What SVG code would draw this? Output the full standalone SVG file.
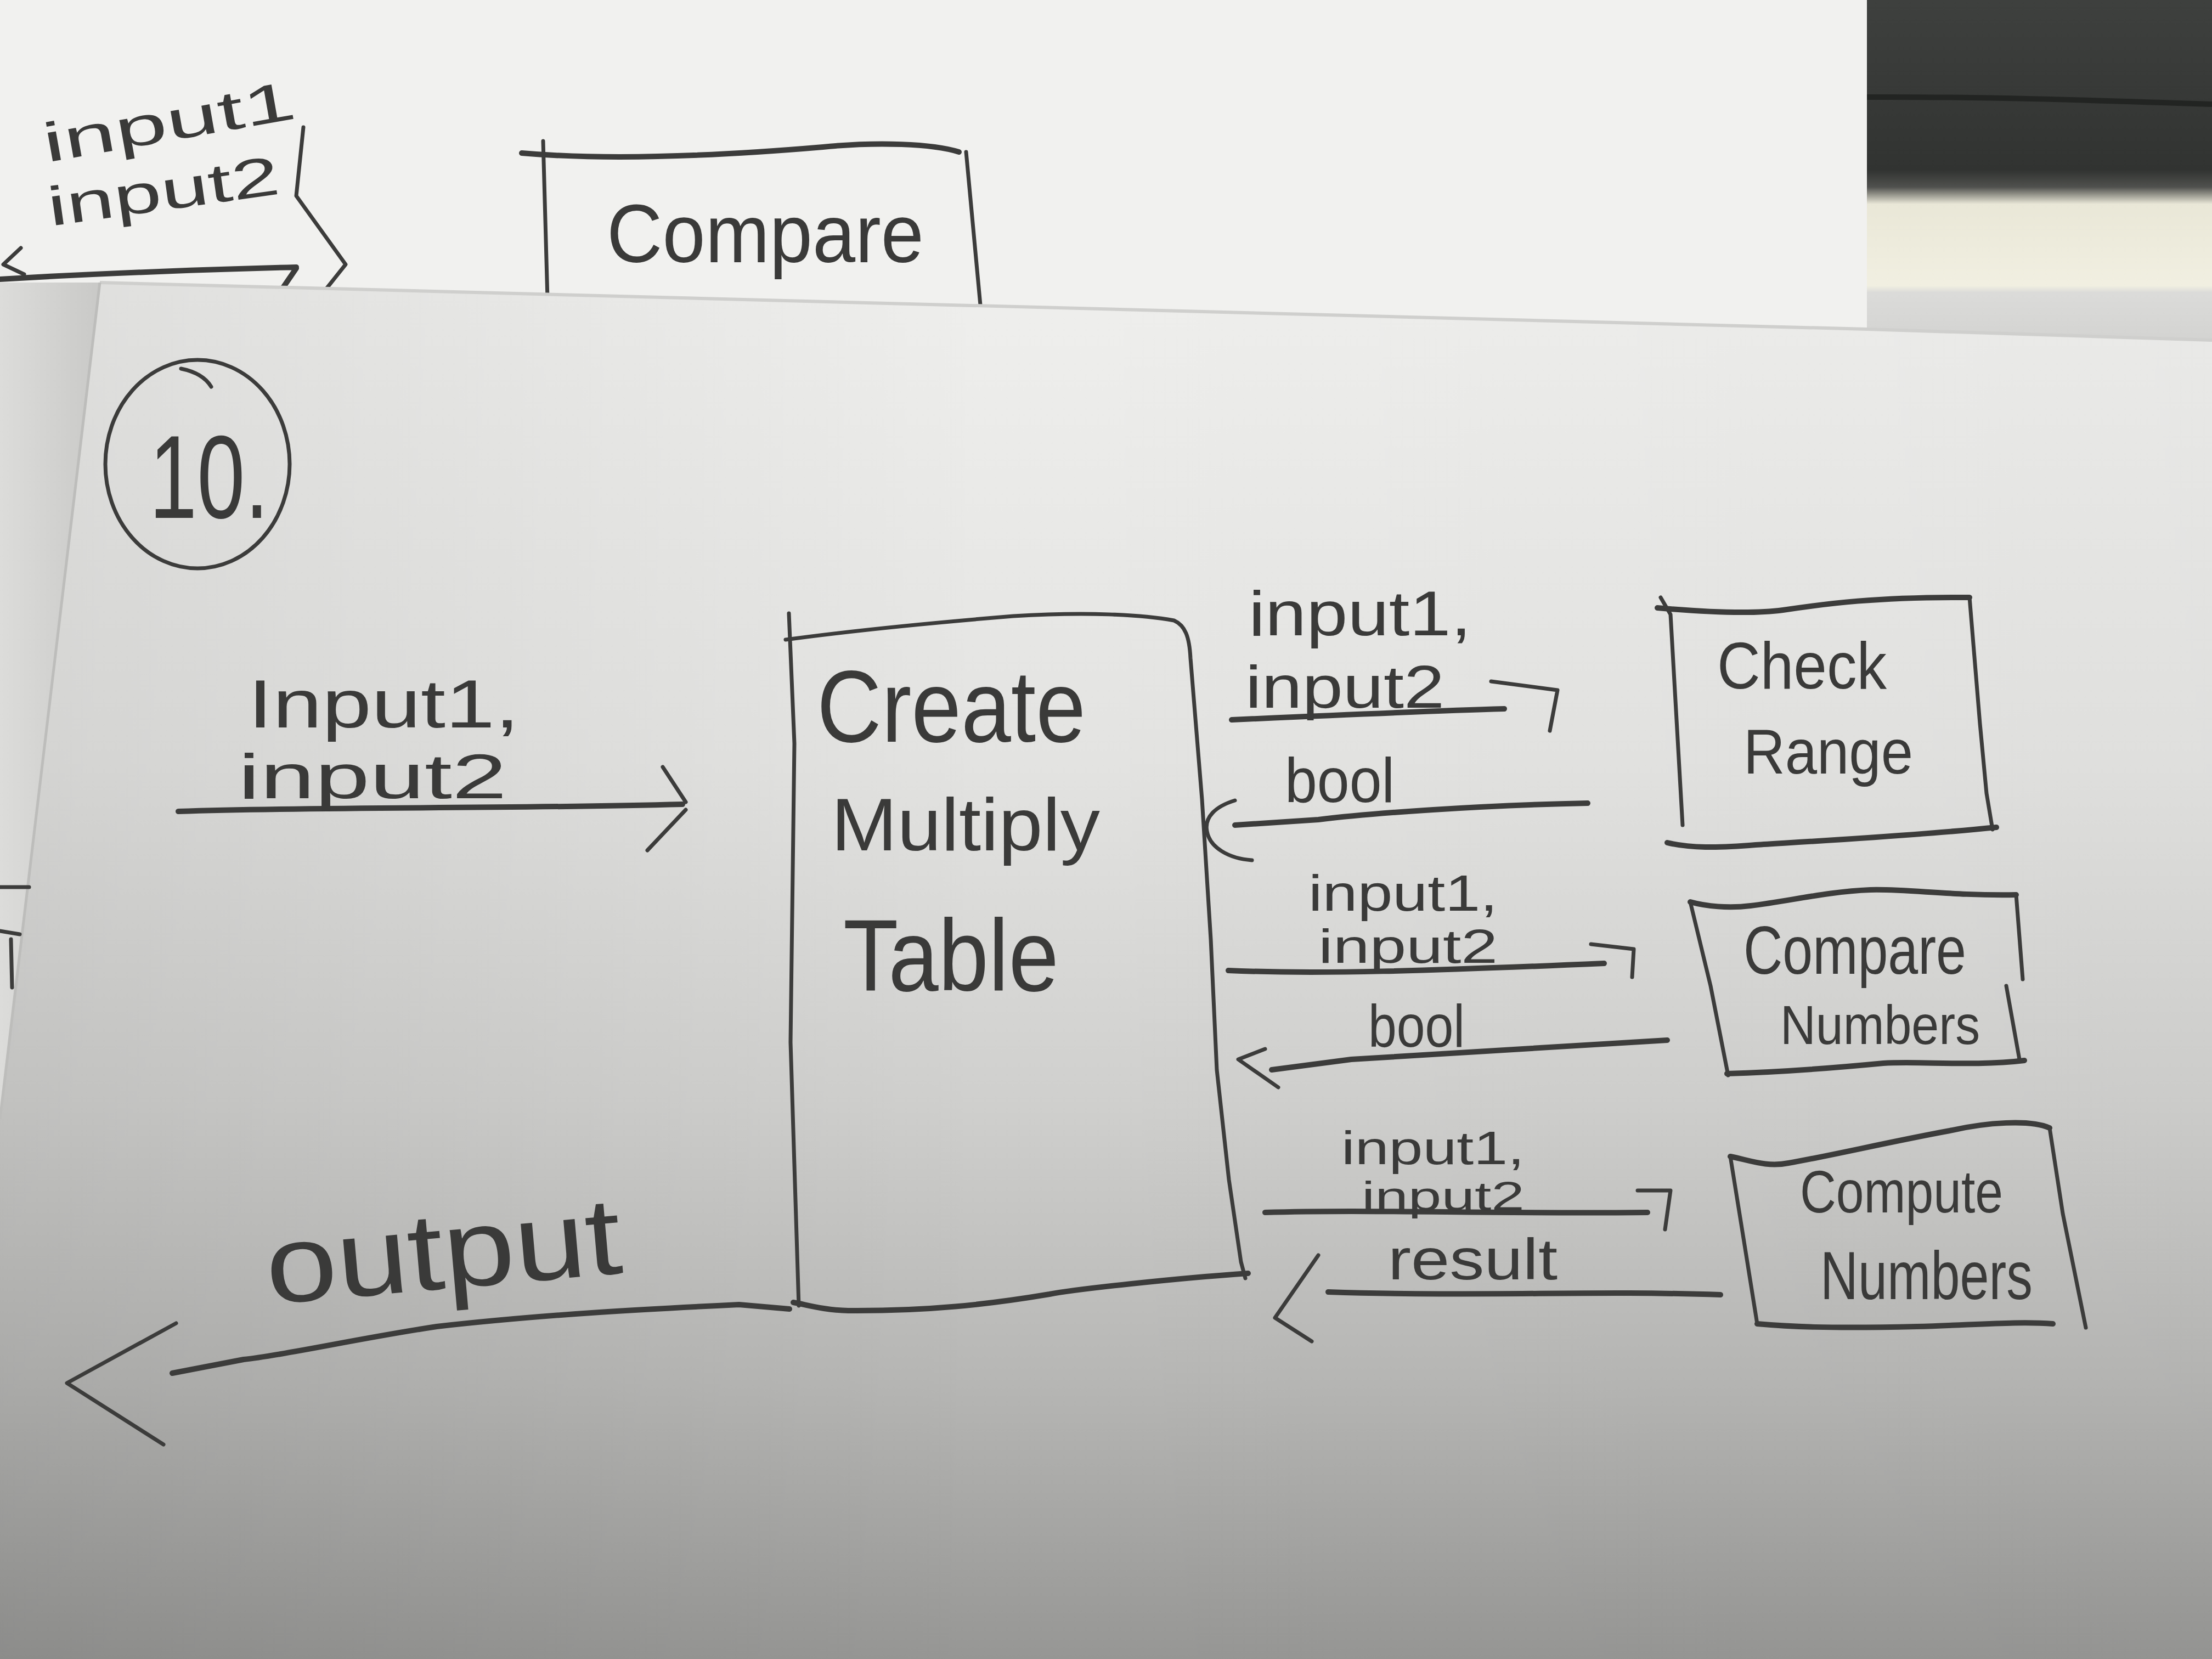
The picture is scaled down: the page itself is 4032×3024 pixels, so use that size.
<svg xmlns="http://www.w3.org/2000/svg" width="4032" height="3024" viewBox="0 0 4032 3024">
<defs>
  <style>
    .pen{fill:none;stroke:#3c3c3b;stroke-width:10;stroke-linecap:round;stroke-linejoin:round}
    .thin{stroke-width:7}
    .hand{font-family:"Liberation Sans",Arial,sans-serif;fill:#3a3a39}
  </style>
  <!-- lighting of the lower sheet: bright at the top, grey towards the bottom -->
  <linearGradient id="sheetShade" gradientUnits="userSpaceOnUse" x1="0" y1="500" x2="0" y2="3024">
    <stop offset="0" stop-color="#efefed"/>
    <stop offset="0.35" stop-color="#e3e3e1"/>
    <stop offset="0.6" stop-color="#cfcfcd"/>
    <stop offset="0.8" stop-color="#b6b6b4"/>
    <stop offset="1" stop-color="#969694"/>
  </linearGradient>
  <linearGradient id="sideShade" gradientUnits="userSpaceOnUse" x1="0" y1="0" x2="4032" y2="0">
    <stop offset="0" stop-color="#000" stop-opacity="0.07"/>
    <stop offset="0.45" stop-color="#000" stop-opacity="0"/>
    <stop offset="1" stop-color="#000" stop-opacity="0.02"/>
  </linearGradient>
  <linearGradient id="backdrop" gradientUnits="userSpaceOnUse" x1="0" y1="0" x2="0" y2="620">
    <stop offset="0" stop-color="#3e403e"/>
    <stop offset="0.5" stop-color="#313331"/>
    <stop offset="0.55" stop-color="#50514e"/>
    <stop offset="0.6" stop-color="#e9e7d7"/>
    <stop offset="0.84" stop-color="#f1efe1"/>
    <stop offset="0.86" stop-color="#dbdbd9"/>
    <stop offset="1" stop-color="#d3d3d1"/>
  </linearGradient>
  <linearGradient id="stripShade" gradientUnits="userSpaceOnUse" x1="0" y1="0" x2="180" y2="0">
    <stop offset="0" stop-color="#dcdcda"/>
    <stop offset="1" stop-color="#c9c9c7"/>
  </linearGradient>
</defs>

<!-- upper sheet, dark backdrop and side strip -->
<rect x="0" y="0" width="4032" height="3024" fill="#f1f1ef"/>
<rect x="3403" y="0" width="629" height="640" fill="url(#backdrop)"/>
<path d="M3403,177 C3600,176 3800,182 4032,190" fill="none" stroke="#222422" stroke-width="10"/>
<polygon points="0,515 182,515 0,2040" fill="url(#stripShade)"/>

<!-- sketch on the upper sheet -->
<g id="upper-sketch">
  <text class="hand" x="85" y="296" font-size="100" textLength="465" lengthAdjust="spacingAndGlyphs" transform="rotate(-10 85 296)">input1</text>
  <text class="hand" x="92" y="412" font-size="100" textLength="425" lengthAdjust="spacingAndGlyphs" transform="rotate(-8 92 412)">input2</text>
  <path class="pen" d="M0,509 C150,500 350,492 540,487 M540,489 L514,527"/>
  <path class="pen thin" d="M553,232 L540,357 L630,482 L591,531"/>
  <path class="pen thin" d="M38,452 L6,482 L44,500"/>
  <path class="pen" d="M951,279 C1100,292 1300,285 1500,268 C1600,258 1700,262 1748,277"/>
  <path class="pen thin" d="M990,257 L998,545 M1761,277 L1787,556"/>
  <text class="hand" x="1106" y="478" font-size="150" textLength="578" lengthAdjust="spacingAndGlyphs">Compare</text>
</g>

<!-- lower sheet -->
<polygon points="182,515 3403,600 4032,620 4032,3024 0,3024 0,2040" fill="url(#sheetShade)"/>
<polygon points="182,515 3403,600 4032,620 4032,3024 0,3024 0,2040" fill="url(#sideShade)"/>
<path d="M182,515 L3403,600 L4032,620" fill="none" stroke="#cfcfcd" stroke-width="6"/>
<path d="M182,515 L0,2040" fill="none" stroke="#bdbdbb" stroke-width="5"/>

<!-- marks on the side strip -->
<path class="pen thin" d="M0,1617 L53,1617 M0,1697 L36,1703 M20,1712 L22,1800"/>

<!-- step number -->
<g id="step-number">
  <ellipse cx="360" cy="846" rx="168" ry="190" class="pen thin"/>
  <path class="pen thin" d="M330,672 Q370,680 385,705"/>
  <text class="hand" x="272" y="944" font-size="215" textLength="218" lengthAdjust="spacingAndGlyphs">10.</text>
</g>

<!-- nodes -->
<g id="node-create-multiply-table">
  <path class="pen thin" d="M1432,1166 C1550,1150 1700,1135 1847,1123 C1980,1115 2080,1120 2140,1131 C2160,1140 2168,1160 2170,1200 L2191,1457 L2207,1712 L2218,1950 L2240,2150 L2262,2300 L2270,2330"/>
  <path class="pen" d="M2275,2321 C2143,2330 1960,2350 1913,2359 C1800,2378 1690,2390 1546,2389 C1500,2388 1470,2378 1446,2374"/>
  <path class="pen thin" d="M1438,1118 L1448,1355 L1441,1900 L1456,2380"/>
  <text class="hand" x="1489" y="1352" font-size="185" textLength="490" lengthAdjust="spacingAndGlyphs">Create</text>
  <text class="hand" x="1515" y="1550" font-size="135" textLength="490" lengthAdjust="spacingAndGlyphs">Multiply</text>
  <text class="hand" x="1537" y="1806" font-size="185" textLength="393" lengthAdjust="spacingAndGlyphs">Table</text>
</g>

<g id="node-check-range">
  <path class="pen" d="M3021,1108 C3100,1115 3191,1120 3250,1112 C3330,1100 3420,1088 3590,1089"/>
  <path class="pen thin" d="M3590,1089 L3609,1319 L3621,1446 L3632,1512"/>
  <path class="pen" d="M3039,1536 C3080,1546 3130,1546 3200,1540 C3312,1533 3493,1523 3639,1508"/>
  <path class="pen thin" d="M3027,1089 L3045,1120 L3067,1504"/>
  <text class="hand" x="3130" y="1255" font-size="120" textLength="309" lengthAdjust="spacingAndGlyphs">Check</text>
  <text class="hand" x="3178" y="1410" font-size="115" textLength="309" lengthAdjust="spacingAndGlyphs">Range</text>
</g>

<g id="node-compare-numbers">
  <path class="pen" d="M3081,1644 C3110,1652 3150,1656 3191,1651 C3260,1643 3330,1625 3409,1622 C3480,1620 3554,1633 3675,1631"/>
  <path class="pen thin" d="M3675,1631 L3687,1785 M3657,1797 L3681,1931"/>
  <path class="pen" d="M3148,1957 C3250,1954 3350,1946 3433,1938 C3500,1934 3600,1944 3690,1933"/>
  <path class="pen thin" d="M3081,1644 L3118,1797 L3150,1960"/>
  <text class="hand" x="3178" y="1775" font-size="125" textLength="406" lengthAdjust="spacingAndGlyphs">Compare</text>
  <text class="hand" x="3245" y="1903" font-size="100" textLength="364" lengthAdjust="spacingAndGlyphs">Numbers</text>
</g>

<g id="node-compute-numbers">
  <path class="pen" d="M3154,2108 C3190,2115 3220,2128 3260,2120 C3330,2108 3450,2080 3554,2061 C3620,2046 3700,2040 3736,2056"/>
  <path class="pen thin" d="M3736,2056 L3760,2212 L3802,2420"/>
  <path class="pen" d="M3203,2413 C3260,2418 3330,2422 3494,2418 C3600,2415 3680,2408 3742,2413"/>
  <path class="pen thin" d="M3154,2108 L3178,2257 L3203,2413"/>
  <text class="hand" x="3281" y="2210" font-size="110" textLength="370" lengthAdjust="spacingAndGlyphs">Compute</text>
  <text class="hand" x="3318" y="2368" font-size="125" textLength="387" lengthAdjust="spacingAndGlyphs">Numbers</text>
</g>

<!-- connectors -->
<g id="connectors">
  <g id="edge-input">
    <path class="pen" d="M325,1479 C600,1470 900,1475 1244,1466"/>
    <path class="pen thin" d="M1208,1398 L1250,1462 M1250,1476 L1180,1550"/>
    <text class="hand" x="452" y="1326" font-size="125" textLength="495" lengthAdjust="spacingAndGlyphs">Input1,</text>
    <text class="hand" x="434" y="1455" font-size="115" textLength="490" lengthAdjust="spacingAndGlyphs">input2</text>
  </g>
  <g id="edge-output">
    <path class="pen" d="M1439,2386 L1347,2378 C1200,2385 1000,2395 796,2418 C650,2440 520,2470 444,2478 L314,2503"/>
    <path class="pen thin" d="M321,2412 L122,2521 L298,2633"/>
    <text class="hand" x="490" y="2377" font-size="200" textLength="650" lengthAdjust="spacingAndGlyphs" transform="rotate(-5 490 2377)">output</text>
  </g>
  <g id="edge-check-range-call">
    <path class="pen" d="M2245,1312 C2400,1305 2600,1296 2742,1292"/>
    <path class="pen thin" d="M2718,1242 L2839,1258 L2825,1332"/>
    <text class="hand" x="2276" y="1158" font-size="115" textLength="406" lengthAdjust="spacingAndGlyphs">input1,</text>
    <text class="hand" x="2270" y="1290" font-size="110" textLength="363" lengthAdjust="spacingAndGlyphs">input2</text>
  </g>
  <g id="edge-check-range-return">
    <path class="pen" d="M2894,1464 C2700,1468 2500,1482 2403,1494 L2251,1504"/>
    <path class="pen thin" d="M2251,1459 C2215,1470 2195,1490 2200,1515 C2205,1545 2240,1565 2282,1568"/>
    <text class="hand" x="2342" y="1462" font-size="115" textLength="200" lengthAdjust="spacingAndGlyphs">bool</text>
  </g>
  <g id="edge-compare-call">
    <path class="pen" d="M2239,1769 C2400,1776 2600,1770 2924,1756"/>
    <path class="pen thin" d="M2900,1721 L2978,1730 L2975,1781"/>
    <text class="hand" x="2385" y="1660" font-size="92" textLength="345" lengthAdjust="spacingAndGlyphs">input1,</text>
    <text class="hand" x="2403" y="1755" font-size="88" textLength="327" lengthAdjust="spacingAndGlyphs">input2</text>
  </g>
  <g id="edge-compare-return">
    <path class="pen" d="M3039,1896 C2800,1910 2550,1925 2463,1931 L2318,1950"/>
    <path class="pen thin" d="M2306,1912 L2257,1931 L2330,1982"/>
    <text class="hand" x="2494" y="1908" font-size="110" textLength="176" lengthAdjust="spacingAndGlyphs">bool</text>
  </g>
  <g id="edge-compute-call">
    <path class="pen" d="M2306,2210 C2500,2204 2700,2213 3003,2210"/>
    <path class="pen thin" d="M2985,2170 L3045,2170 L3035,2241"/>
    <text class="hand" x="2445" y="2122" font-size="86" textLength="334" lengthAdjust="spacingAndGlyphs">input1,</text>
    <text class="hand" x="2482" y="2206" font-size="74" textLength="297" lengthAdjust="spacingAndGlyphs">input2</text>
  </g>
  <g id="edge-compute-return">
    <path class="pen" d="M3136,2360 C2900,2352 2700,2364 2421,2355"/>
    <path class="pen thin" d="M2403,2288 L2324,2402 L2391,2445"/>
    <text class="hand" x="2530" y="2332" font-size="105" textLength="309" lengthAdjust="spacingAndGlyphs">result</text>
  </g>
</g>
</svg>
